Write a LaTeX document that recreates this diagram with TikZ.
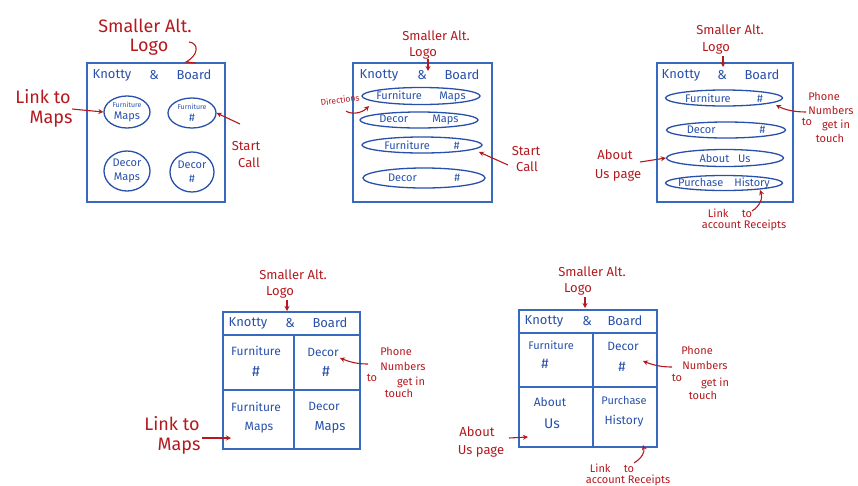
\documentclass[tikz,border=0pt]{standalone}
\usepackage{fontspec}
\setmainfont{Fira Sans}
\usetikzlibrary{arrows.meta,shapes.geometric}
\definecolor{inkblue}{RGB}{40,80,170}
\definecolor{inkred}{RGB}{180,25,30}
\definecolor{frameblue}{RGB}{55,105,190}
\newcommand{\fs}[1]{\fontsize{#1}{#1}\selectfont}

\begin{document}
\begin{tikzpicture}[x=1pt,y=-1pt,
  frame/.style={draw=frameblue,line width=1.5pt},
  pill/.style={ellipse,draw=inkblue,line width=1.3pt,inner sep=0pt},
  hdr/.style={text=inkblue,font=\fs{13},inner sep=0pt},
  btxt/.style={text=inkblue,font=\fs{11},inner sep=0pt,align=center},
  ctxt/.style={text=inkblue,font=\fs{12},inner sep=0pt,align=center},
  rtxt/.style={text=inkred,font=\fs{11},inner sep=0pt,align=center},
  rmid/.style={text=inkred,font=\fs{13},inner sep=0pt,align=center},
  rbig/.style={text=inkred,font=\fs{18},inner sep=0pt,align=center},
  redarr/.style={draw=inkred,line width=1.1pt,-{Stealth[length=5pt,width=5pt]}},
  redline/.style={draw=inkred,line width=1.1pt}]
\useasboundingbox (0,0) rectangle (858,485);

%% ---------- Layout 1: four round buttons ----------
\draw[frame] (87,63) rectangle (225,202);
\node[rbig] (s1) at (145,26) {Smaller Alt.};
\node[rbig] (l1) at (149,47) {Logo};
\coordinate (q1a) at (189,42);
\coordinate (q1b) at (186,62);
\coordinate (q1c) at (196,63);
\draw[redline] (q1a) .. controls (199,43) and (199,55) .. (q1b) -- (q1c);
\node[hdr] (k1) at (112,75) {Knotty};
\node[hdr] (a1) at (154,75) {\&};
\node[hdr] (b1) at (194,75) {Board};
\node[pill,minimum width=46,minimum height=32] (e11) at (127,112) {};
\node[btxt] (e11t) at (e11) {{\fs{7}Furniture}\\[1pt]Maps};
\node[pill,minimum width=48,minimum height=30] (e12) at (192,113) {};
\node[btxt] (e12t) at (e12) {{\fs{7}Furniture}\\[1pt]\#};
\node[pill,minimum width=46,minimum height=40] (e13) at (127,171) {};
\node[btxt] (e13t) at (e13) {Decor\\[3pt]Maps};
\node[pill,minimum width=44,minimum height=40] (e14) at (192,172) {};
\node[btxt] (e14t) at (e14) {Decor\\[3pt]\#};
\node[rbig] (lk1) at (43,97) {Link to};
\node[rbig] (lm1) at (51,119) {Maps};
\coordinate (c1) at (72,109);
\draw[redarr] (c1) -- (e11.west);
\node[rmid] (st1) at (246,146) {Start};
\node[rmid] (ca1) at (249,163) {Call};
\coordinate (c2) at (240,124);
\draw[redarr] (c2) -- (e12.east);

%% ---------- Layout 2: stacked pill buttons ----------
\draw[frame] (353,63) rectangle (492,202);
\node[rmid] (s2) at (436,36) {Smaller Alt.};
\node[rmid] (l2) at (423,53) {Logo};
\coordinate (f2) at (428,59);
\coordinate (t2) at (428,71);
\draw[redarr] (f2) -- (t2);
\node[hdr] (k2) at (379,75) {Knotty};
\node[hdr] (a2) at (422,75) {\&};
\node[hdr] (b2) at (462,75) {Board};
\node[pill,minimum width=118,minimum height=17] (p21) at (421,96) {};
\node[btxt] (p21t) at (p21) {Furniture\hspace{1.6em}Maps};
\node[pill,minimum width=118,minimum height=16] (p22) at (419,120) {};
\node[btxt] (p22t) at (p22) {Decor\hspace{2.2em}Maps};
\node[pill,minimum width=120,minimum height=16] (p23) at (422,145) {};
\node[btxt] (p23t) at (p23) {Furniture\hspace{2.2em}\#};
\node[pill,minimum width=122,minimum height=20] (p24) at (424,178) {};
\node[btxt] (p24t) at (p24) {Decor\hspace{3.4em}\#};
\node[text=inkred,font=\fs{8.5},inner sep=0pt,rotate=8] (d2) at (340,100) {Directions};
\coordinate (c3) at (346,111);
\coordinate (c4) at (369,106);
\draw[redarr] (c3) .. controls (352,115) and (362,113) .. (c4);
\node[rmid] (st2) at (526,151) {Start};
\node[rmid] (ca2) at (527,167) {Call};
\coordinate (c5) at (508,165);
\coordinate (c6) at (479,152);
\draw[redarr] (c5) -- (c6);

%% ---------- Layout 3: pills with account links ----------
\draw[frame] (657,63) rectangle (793,202);
\node[rmid] (s3) at (730,30) {Smaller Alt.};
\node[rmid] (l3) at (716,48) {Logo};
\coordinate (f3) at (723,56);
\coordinate (t3) at (723,67);
\draw[redarr] (f3) -- (t3);
\node[hdr] (k3) at (681,75) {Knotty};
\node[hdr] (a3) at (722,75) {\&};
\node[hdr] (b3) at (762,75) {Board};
\node[pill,minimum width=117,minimum height=16] (p31) at (724,98) {};
\node[btxt] (p31t) at (p31) {Furniture\hspace{2.4em}\#};
\node[pill,minimum width=119,minimum height=16] (p32) at (726,130) {};
\node[btxt] (p32t) at (p32) {Decor\hspace{4em}\#};
\node[pill,minimum width=117,minimum height=17] (p33) at (725,158) {};
\node[btxt] (p33t) at (p33) {About\hspace{0.8em}Us};
\node[pill,minimum width=117,minimum height=15] (p34) at (724,183) {};
\node[btxt] (p34t) at (p34) {Purchase\hspace{1em}History};
\node[rtxt] (ph3) at (824,96) {Phone};
\node[rtxt] (nu3) at (831,110) {Numbers};
\node[rtxt] (to3) at (807,122) {to};
\node[rtxt] (ge3) at (836,125) {get in};
\node[rtxt] (tc3) at (830,138) {touch};
\coordinate (c7) at (806,112);
\coordinate (c8) at (776,105);
\draw[redarr] (c7) .. controls (795,112) and (785,110) .. (c8);
\node[rmid] (ab3) at (615,155) {About};
\node[rmid] (up3) at (618,175) {Us page};
\coordinate (c9) at (640,162);
\draw[redarr] (c9) -- (p33.west);
\node[rtxt] (lk3) at (730,213) {Link\hspace{1.2em}to};
\node[rtxt] (ar3) at (744,225) {account Receipts};
\coordinate (c10) at (752,211);
\coordinate (c11) at (760,190);
\draw[redarr] (c10) .. controls (760,206) and (763,198) .. (c11);

%% ---------- Layout 4: grid with maps ----------
\draw[frame] (223,312) rectangle (360,449);
\draw[frame] (223,335) -- (360,335);
\draw[frame] (294,335) -- (294,449);
\draw[frame] (223,390) -- (360,390);
\node[rmid] (s4) at (293,275) {Smaller Alt.};
\node[rmid] (l4) at (280,292) {Logo};
\coordinate (f4) at (287,300);
\coordinate (t4) at (287,311);
\draw[redarr] (f4) -- (t4);
\node[hdr] (k4) at (248,323) {Knotty};
\node[hdr] (a4) at (290,323) {\&};
\node[hdr] (b4) at (330,323) {Board};
\node[ctxt] (g41) at (256,351) {Furniture};
\node[ctxt,font=\fs{15}] (g41h) at (256,371) {\#};
\node[ctxt] (g42) at (323,352) {Decor};
\node[ctxt,font=\fs{15}] (g42h) at (326,371) {\#};
\node[ctxt] (g43) at (256,407) {Furniture};
\node[ctxt] (g43m) at (259,428) {Maps};
\node[ctxt] (g44) at (324,406) {Decor};
\node[ctxt,font=\fs{13}] (g44m) at (330,427) {Maps};
\node[rtxt] (ph4) at (396,351) {Phone};
\node[rtxt] (nu4) at (403,366) {Numbers};
\node[rtxt] (to4) at (372,378) {to};
\node[rtxt] (ge4) at (411,382) {get in};
\node[rtxt] (tc4) at (399,393) {touch};
\coordinate (c12) at (368,364);
\coordinate (c13) at (340,358);
\draw[redarr] (c12) .. controls (357,364) and (350,362) .. (c13);
\node[rbig] (lk4) at (172,424) {Link to};
\node[rbig] (lm4) at (179,446) {Maps};
\coordinate (c14) at (202,438);
\coordinate (c15) at (231,438);
\draw[redarr] (c14) -- (c15);

%% ---------- Layout 5: grid with account links ----------
\draw[frame] (519,310) rectangle (657,447);
\draw[frame] (519,333) -- (657,333);
\draw[frame] (593,333) -- (593,447);
\draw[frame] (519,387) -- (657,387);
\node[rmid] (s5) at (592,272) {Smaller Alt.};
\node[rmid] (l5) at (578,289) {Logo};
\coordinate (f5) at (585,297);
\coordinate (t5) at (585,308);
\draw[redarr] (f5) -- (t5);
\node[hdr] (k5) at (544,321) {Knotty};
\node[hdr] (a5) at (587,321) {\&};
\node[hdr] (b5) at (625,321) {Board};
\node[ctxt,font=\fs{11}] (g51) at (551,345) {Furniture};
\node[ctxt,font=\fs{14}] (g51h) at (545,364) {\#};
\node[ctxt] (g52) at (623,346) {Decor};
\node[ctxt,font=\fs{14}] (g52h) at (622,367) {\#};
\node[ctxt] (g53) at (550,402) {About};
\node[ctxt,font=\fs{14}] (g53u) at (552,424) {Us};
\node[ctxt,font=\fs{11}] (g54) at (624,400) {Purchase};
\node[ctxt] (g54h) at (624,421) {History};
\node[rtxt] (ph5) at (697,350) {Phone};
\node[rtxt] (nu5) at (705,365) {Numbers};
\node[rtxt] (to5) at (677,378) {to};
\node[rtxt] (ge5) at (715,383) {get in};
\node[rtxt] (tc5) at (703,395) {touch};
\coordinate (c16) at (672,367);
\coordinate (c17) at (643,361);
\draw[redarr] (c16) .. controls (661,367) and (653,365) .. (c17);
\node[rmid] (ab5) at (477,432) {About};
\node[rmid] (up5) at (481,451) {Us page};
\coordinate (c18) at (509,438);
\coordinate (c19) at (528,437);
\draw[redarr] (c18) -- (c19);
\node[rtxt] (lk5) at (612,468) {Link\hspace{1.2em}to};
\node[rtxt] (ar5) at (628,480) {account Receipts};
\coordinate (c20) at (634,463);
\coordinate (c21) at (643,445);
\draw[redarr] (c20) .. controls (642,458) and (645,452) .. (c21);
\end{tikzpicture}
\end{document}
